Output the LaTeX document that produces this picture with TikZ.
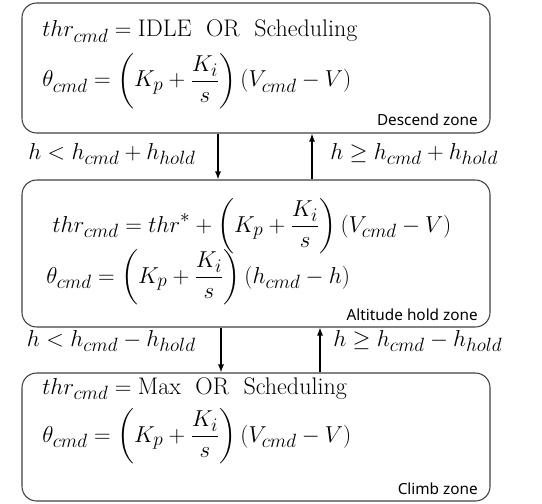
\documentclass[tikz,border=0pt]{standalone}
\usepackage{amsmath}
\usepackage{fontspec}
\usepackage{tikz}
\usetikzlibrary{positioning,arrows.meta,calc}
\newfontfamily\zonefont{Noto Sans}
\definecolor{zoneline}{RGB}{64,64,64}
\DeclareMathSizes{18}{18}{14}{10}
\tikzset{
  zonebox/.style={draw=zoneline, line width=0.8pt, rounded corners=11pt,
                  minimum width=351pt, inner sep=0pt},
  eqline/.style={inner sep=0pt, font=\fontsize{18}{21}\selectfont},
  zonelabel/.style={inner sep=0pt, font=\zonefont\fontsize{11.5}{13}\selectfont, anchor=base east},
  condlabel/.style={inner sep=0pt, font=\fontsize{18}{21}\selectfont},
  arr/.style={-{Latex[length=6pt,width=4.5pt]}, line width=0.9pt}
}
\begin{document}
\begin{tikzpicture}[x=0.75pt,y=-0.75pt]
  \useasboundingbox (0,0) rectangle (542,503);

  %% zones
  \node[zonebox, minimum height=97.5pt] (descend) at (256,68) {};
  \node[zonebox, minimum height=110.25pt] (hold) at (256,253.5) {};
  \node[zonebox, minimum height=96pt] (climb) at (256,437) {};

  % Descend zone
  \node[eqline, anchor=base west] (d1) at (42,37)
       {$thr_{cmd} = \text{IDLE\ \ OR\ \ Scheduling}$};
  \node[eqline, anchor=base west] (d2) at (42,87)
       {$\displaystyle \theta_{cmd} = \left(K_p + \frac{K_i}{s}\right)(V_{cmd} - V)$};
  \node[zonelabel] at (478,125) {Descend zone};

  % Altitude hold zone
  \node[eqline, anchor=base] (a1) at (252,232)
       {$\displaystyle thr_{cmd} = thr^{*} + \left(K_p + \frac{K_i}{s}\right)(V_{cmd} - V)$};
  \node[eqline, anchor=base west] (a2) at (46,283)
       {$\displaystyle \theta_{cmd} = \left(K_p + \frac{K_i}{s}\right)(h_{cmd} - h)$};
  \node[zonelabel] at (478,320) {Altitude hold zone};

  % Climb zone
  \node[eqline, anchor=base west] (c1) at (42,394)
       {$thr_{cmd} = \text{Max\ \ OR\ \ Scheduling}$};
  \node[eqline, anchor=base west] (c2) at (42,442)
       {$\displaystyle \theta_{cmd} = \left(K_p + \frac{K_i}{s}\right)(V_{cmd} - V)$};
  \node[zonelabel] at (478,494) {Climb zone};

  %% transitions
  \draw[arr] ([xshift=-28.5pt]descend.south) -- ([xshift=-28.5pt]hold.north);
  \draw[arr] ([xshift=42pt]hold.north) -- ([xshift=42pt]descend.south);
  \draw[arr] ([xshift=-26.25pt]hold.south) -- ([xshift=-26.25pt]climb.north);
  \draw[arr] ([xshift=48pt]climb.north) -- ([xshift=48pt]hold.south);

  \node[condlabel, anchor=base east] (dn1) at (196,159) {$h < h_{cmd} + h_{hold}$};
  \node[condlabel, anchor=base west] (up1) at (330,159) {$h \geq h_{cmd} + h_{hold}$};
  \node[condlabel, anchor=base east] (dn2) at (196,346) {$h < h_{cmd} - h_{hold}$};
  \node[condlabel, anchor=base west] (up2) at (333,346) {$h \geq h_{cmd} - h_{hold}$};
\end{tikzpicture}
\end{document}
